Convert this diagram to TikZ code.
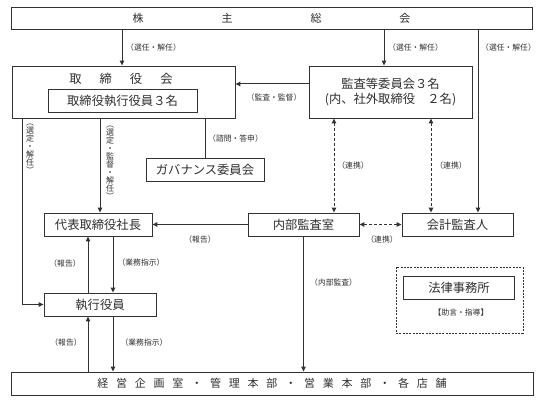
\documentclass[tikz,border=0pt]{standalone}
\usepackage{fontspec}
\setmainfont{Noto Sans CJK JP}
\usetikzlibrary{arrows.meta,calc}
\definecolor{ln}{HTML}{333333}
\definecolor{tx}{HTML}{2E2E2E}
\newcommand{\hsp}{\hspace{7.8pt}}
\tikzset{
 box/.style={draw=ln, line width=0.9pt, inner sep=0pt, text=tx, font=\fontsize{12.3}{15}\selectfont},
 lbl/.style={text=tx, inner sep=0pt, font=\fontsize{7.8}{9}\selectfont},
 vlbl/.style={text=tx, inner sep=0pt, align=center, font=\fontsize{8}{8}\selectfont},
 conn/.style={draw=ln, line width=1pt},
 arr/.style={conn, -{Triangle[length=5pt,width=4.5pt]}},
 darr/.style={conn, dash pattern=on 3pt off 2pt, {Triangle[length=5pt,width=4.5pt]}-{Triangle[length=5pt,width=4.5pt]}},
}
\begin{document}
\begin{tikzpicture}[x=1pt,y=-1pt]
\useasboundingbox[fill=white] (0,0) rectangle (552,406);

% lanes
\coordinate (c1) at (122,0);
\coordinate (c2) at (384,0);
\coordinate (c3) at (478,0);
\coordinate (c4) at (100,0);
\coordinate (c5) at (22,0);
\coordinate (c88) at (88,0);
\coordinate (c113) at (113,0);
\coordinate (c334) at (334,0);
\coordinate (c431) at (431,0);
\coordinate (r84) at (0,84);

% nodes
\node[box, minimum width=521pt, minimum height=22pt, font=\fontsize{11}{13}\selectfont] (agm) at (271.5,18) {株\hspace{78pt}主\hspace{78pt}総\hspace{78pt}会};
\node[box, minimum width=223pt, minimum height=52pt] (board) at (123.5,92) {};
\node[text=tx, inner sep=0pt, font=\fontsize{12.3}{15}\selectfont] (boardt) at (121,79) {取\hspace{18pt}締\hspace{18pt}役\hspace{18pt}会};
\node[box, minimum width=149pt, minimum height=23pt] (exd) at (122.5,100.5) {取締役執行役員３名};
\node[box, minimum width=163pt, minimum height=52pt, align=center] (audit) at (390.5,92) {監査等委員会３名\\(内、社外取締役　２名)};
\node[box, minimum width=118pt, minimum height=23pt] (gov) at (205,169.5) {ガバナンス委員会};
\node[box, minimum width=108pt, minimum height=23pt] (ceo) at (98,224.5) {代表取締役社長};
\node[box, minimum width=111pt, minimum height=23pt] (ia) at (303.5,224.5) {内部監査室};
\node[box, minimum width=111pt, minimum height=23pt] (ext) at (457.5,224.5) {会計監査人};
\node[box, minimum width=112pt, minimum height=23pt] (exe) at (100,304.5) {執行役員};
\node[draw=ln, dash pattern=on 2pt off 1.3pt, line width=0.8pt, minimum width=127pt, minimum height=66pt, inner sep=0pt] (lawf) at (459.5,300) {};
\node[box, minimum width=111pt, minimum height=23pt] (law) at (459,287.5) {法律事務所};
\node[lbl] (advice) at (461,313) {【助言・指導】};
\node[box, minimum width=522pt, minimum height=23pt, font=\fontsize{11}{13}\selectfont] (ops) at (272,383.5) {経\hsp 営\hsp 企\hsp 画\hsp 室\hsp ・\hsp 管\hsp 理\hsp 本\hsp 部\hsp ・\hsp 営\hsp 業\hsp 本\hsp 部\hsp ・\hsp 各\hsp 店\hsp 舗};

% connectors
\draw[arr] (agm.south -| c1) -- (board.north -| c1);
\draw[arr] (agm.south -| c2) -- (audit.north -| c2);
\draw[arr] (agm.south -| c3) -- (ext.north -| c3);
\draw[arr] (audit.west |- r84) -- (board.east |- r84);
\draw[conn] (board.south -| gov.north) -- (gov.north);
\draw[arr] (board.south -| c4) -- (ceo.north -| c4);
\draw[arr] (board.south -| c5) -- (c5 |- exe.west) -- (exe.west);
\draw[arr] (ia.west) -- (ceo.east);
\draw[arr] (exe.north -| c88) -- (ceo.south -| c88);
\draw[arr] (ceo.south -| c113) -- (exe.north -| c113);
\draw[arr] (ops.north -| c88) -- (exe.south -| c88);
\draw[arr] (exe.south -| c113) -- (ops.north -| c113);
\draw[arr] (ia.south) -- (ops.north -| ia.south);
\draw[darr] (audit.south -| c334) -- (ia.north -| c334);
\draw[darr] (audit.south -| c431) -- (ext.north -| c431);
\draw[darr] (ia.east) -- (ext.west);

% labels
\node[lbl, anchor=west] (l1) at (126,48) {（選任・解任）};
\node[lbl, anchor=west] (l2) at (388,48) {（選任・解任）};
\node[lbl, anchor=west] (l3) at (481,48) {（選任・解任）};
\node[lbl] (l4) at (274,98) {（監査・監督）};
\node[lbl, anchor=west] (l5) at (208,139) {（諮問・答申）};
\node[vlbl] (l6) at (30,149) {︵\\選\\定\\・\\解\\任\\︶};
\node[vlbl] (l7) at (110,162.5) {︵\\選\\定\\・\\監\\督\\・\\解\\任\\︶};
\node[lbl] (l8) at (200,240) {（報告）};
\node[lbl] (l9) at (65,264) {（報告）};
\node[lbl] (l10) at (141,263) {（業務指示）};
\node[lbl] (l11) at (66,343) {（報告）};
\node[lbl] (l12) at (144,343) {（業務指示）};
\node[lbl, anchor=west] (l13) at (310,283) {（内部監査）};
\node[lbl] (l14) at (353,166) {（連携）};
\node[lbl] (l15) at (451,166) {（連携）};
\node[lbl] (l16) at (382,240) {（連携）};
\end{tikzpicture}
\end{document}
